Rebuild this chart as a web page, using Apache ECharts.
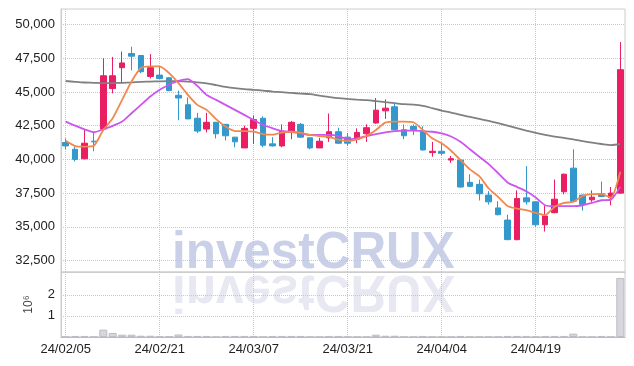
<!DOCTYPE html>
<html lang="en" style="height: 100%">
<head>
<meta charset="utf-8">
<title>Candlestick with MA and volume</title>
</head>
<body style="height: 100%; margin: 0">
<div id="container" style="height: 100%"></div>

<script type="text/javascript" src="https://cdn.jsdelivr.net/npm/echarts@6/dist/echarts.min.js"></script>

<script type="text/javascript">

var dom = document.getElementById('container');
var myChart = echarts.init(dom, null, {width: 634, height: 366});

const dates = [
    '24/02/05', '24/02/06', '24/02/07', '24/02/08', '24/02/13', '24/02/14', '24/02/15', '24/02/16', '24/02/19', '24/02/20',
    '24/02/21', '24/02/22', '24/02/23', '24/02/26', '24/02/27', '24/02/28', '24/02/29', '24/03/04', '24/03/05', '24/03/06',
    '24/03/07', '24/03/08', '24/03/11', '24/03/12', '24/03/13', '24/03/14', '24/03/15', '24/03/18', '24/03/19', '24/03/20',
    '24/03/21', '24/03/22', '24/03/25', '24/03/26', '24/03/27', '24/03/28', '24/03/29', '24/04/01', '24/04/02', '24/04/03',
    '24/04/04', '24/04/05', '24/04/08', '24/04/09', '24/04/11', '24/04/12', '24/04/15', '24/04/16', '24/04/17', '24/04/18',
    '24/04/19', '24/04/22', '24/04/23', '24/04/24', '24/04/25', '24/04/26', '24/04/29', '24/04/30', '24/05/02', '24/05/03'
];

const opens = [
    41250, 40750, 40050, 41350, 42250, 45250, 46800, 47850, 47700, 46150,
    46250, 46050, 44750, 44050, 43050, 42250, 42750, 42600, 41650, 40850,
    42300, 43050, 41150, 41000, 42050, 42600, 41600, 40850, 41600, 42050,
    41650, 41500, 41900, 42700, 43600, 43900, 42200, 42450, 42050, 40500,
    40600, 39950, 39950, 38300, 38150, 37350, 36400, 35500, 34050, 37150,
    36850, 35150, 36050, 37600, 39350, 37350, 37000, 37450, 37150, 37500
];
const closes = [
    41000, 40000, 41200, 41300, 46200, 46200, 47150, 47650, 46500, 46800,
    46000, 45100, 44550, 43000, 42100, 42750, 41900, 41750, 41300, 42300,
    42950, 41050, 41000, 42100, 42750, 41650, 40850, 41350, 42050, 41200,
    41200, 42000, 42350, 43650, 43800, 42200, 41750, 42200, 40700, 40600,
    40450, 40050, 37950, 38000, 37450, 36850, 35900, 34050, 37100, 36850,
    35150, 35800, 37050, 38900, 36900, 36650, 37200, 37250, 37500, 46650
];
const lows = [
    40750, 39850, 40000, 40600, 42200, 44900, 45650, 46600, 46400, 46000,
    45950, 45050, 42900, 43000, 41950, 42000, 41550, 41400, 40900, 40850,
    41150, 40900, 40950, 40900, 41500, 41600, 40750, 40850, 41300, 41150,
    41000, 41200, 41300, 42650, 43000, 42150, 41500, 41800, 40650, 40200,
    40300, 39750, 37900, 37950, 36950, 36650, 35850, 34000, 34000, 36650,
    35000, 34650, 36000, 37400, 36850, 36200, 36850, 37200, 36600, 37450
];
const highs = [
    41550, 40950, 42250, 42050, 47500, 47600, 48000, 48350, 47700, 47800,
    46900, 46100, 45100, 44600, 43450, 43450, 42780, 42620, 41650, 42500,
    43250, 43200, 41650, 42600, 42850, 42700, 41600, 41600, 43400, 42350,
    41950, 42300, 42600, 44550, 44450, 44150, 42600, 42600, 42450, 41300,
    41150, 40250, 39950, 38900, 38500, 37650, 36900, 35900, 37700, 39500,
    36900, 36550, 38500, 38950, 40750, 37400, 37700, 38350, 37950, 48700
];
const volumes = [
    10000, 50000, 50000, 10000, 350000, 190000, 110000, 110000, 60000, 60000,
    30000, 30000, 120000, 50000, 50000, 50000, 10000, 50000, 50000, 50000,
    50000, 10000, 50000, 50000, 50000, 50000, 10000, 10000, 50000, 50000,
    10000, 10000, 10000, 110000, 60000, 60000, 10000, 10000, 50000, 10000,
    10000, 10000, 50000, 10000, 10000, 10000, 10000, 50000, 50000, 50000,
    10000, 50000, 50000, 50000, 160000, 10000, 10000, 50000, 10000, 2800000
];
const ma5 = [
    41380, 40990, 40940, 41010, 42180, 43050, 44410, 45770, 46770, 46890,
    46890, 46400, 45660, 44780, 44040, 43670, 42980, 42430, 42100, 42100,
    42050, 41880, 41830, 41980, 42050, 41980, 41810, 41730, 41680, 41460,
    41360, 41490, 41730, 42180, 42720, 42800, 42800, 42750, 42180, 41560,
    41190, 40640, 39950, 39260, 38750, 37840, 37220, 36550, 36350, 36230,
    36030, 35860, 36470, 36770, 36850, 37290, 37420, 37420, 37170, 39080
];
const ma10 = [
    42800, 42500, 42230, 42010, 42230, 42480, 42800, 43420, 44040, 44660,
    45160, 45530, 45830, 45950, 45450, 44780, 44410, 44040, 43670, 43300,
    42920, 42550, 42310, 42100, 42050, 41930, 41810, 41810, 41810, 41730,
    41490, 41560, 41730, 41880, 42010, 42100, 42130, 42130, 42100, 42050,
    41930, 41700, 41300, 40750, 40200, 39650, 38980, 38290, 37960, 37640,
    37170, 36600, 36530, 36530, 36530, 36600, 36770, 36970, 37020, 37960
];
const maLong = [
    45810, 45750, 45700, 45680, 45650, 45660, 45680, 45710, 45750, 45770,
    45790, 45800, 45800, 45770, 45710, 45630, 45510, 45380, 45280, 45210,
    45160, 45100, 45030, 44990, 44930, 44880, 44840, 44730, 44630, 44540,
    44480, 44430, 44390, 44320, 44240, 44170, 44090, 44060, 43970, 43800,
    43620, 43470, 43300, 43150, 43000, 42850, 42680, 42500, 42310, 42130,
    41960, 41810, 41680, 41590, 41490, 41360, 41240, 41140, 41060, 41140
];
const priceTicks = [32500, 35000, 37500, 40000, 42500, 45000, 47500, 50000];
const volumeTicks = [1000000, 2000000];

var labelFont = 'Liberation Sans';
var dotted = {show: true, lineStyle: {color: '#c4c4da', type: 'dotted', width: 1}};

var option = {
    animation: false,
    graphic: [
        {
            type: 'text', z: -1, x: 172, y: 280, scaleX: 0.95,
            style: {text: 'investCRUX', font: 'bold 52px "Liberation Sans"', fill: '#cad0e7', verticalAlign: 'bottom'}
        },
        {
            type: 'text', z: -1, x: 172, y: 264, scaleX: 0.95, scaleY: -1,
            style: {text: 'investCRUX', font: 'bold 52px "Liberation Sans"', fill: '#e7e8f1', verticalAlign: 'bottom'}
        }
    ],
    grid: [
        {left: 61, right: 9, top: 9, height: 263, show: true, borderColor: '#cccccc', borderWidth: 1},
        {left: 61, right: 9, top: 272, height: 65, show: true, borderColor: '#cccccc', borderWidth: 1}
    ],
    xAxis: [
        {
            type: 'category', data: dates, gridIndex: 0, boundaryGap: true,
            axisLine: {lineStyle: {color: '#cccccc'}},
            axisTick: {show: false},
            axisLabel: {show: false},
            splitLine: Object.assign({interval: 9, alignWithLabel: true}, dotted)
        },
        {
            type: 'category', data: dates, gridIndex: 1, boundaryGap: true,
            axisLine: {lineStyle: {color: '#bbbbbb'}},
            axisTick: {show: false},
            axisLabel: {interval: 9, color: '#222', fontFamily: labelFont, fontSize: 13, margin: 6},
            splitLine: Object.assign({interval: 9, alignWithLabel: true}, dotted)
        }
    ],
    yAxis: [
        {
            type: 'value', gridIndex: 0, min: 31650, max: 51150,
            axisLine: {show: true, lineStyle: {color: '#cccccc'}},
            axisTick: {show: false, customValues: priceTicks},
            axisLabel: {
                customValues: priceTicks, color: '#222', fontFamily: labelFont, fontSize: 13, margin: 6,
                formatter: function (v) { return v.toLocaleString('en-US'); }
            },
            splitLine: dotted
        },
        {
            type: 'value', gridIndex: 1, min: 0, max: 3080000,
            name: '10\u2076', nameLocation: 'middle', nameRotate: 90, nameGap: 26,
            nameTextStyle: {color: '#444', fontFamily: labelFont, fontSize: 12},
            axisLine: {show: true, lineStyle: {color: '#cccccc'}},
            axisTick: {show: false, customValues: volumeTicks},
            axisLabel: {
                customValues: volumeTicks, color: '#222', fontFamily: labelFont, fontSize: 13, margin: 6,
                formatter: function (v) { return String(v / 1000000); }
            },
            splitLine: dotted
        }
    ],
    series: [
        {
            name: 'Price', type: 'candlestick', xAxisIndex: 0, yAxisIndex: 0,
            barWidth: 6,
            data: dates.map(function (d, i) { return [opens[i], closes[i], lows[i], highs[i]]; }),
            itemStyle: {color: '#e91e63', color0: '#3399cc', borderColor: '#e91e63', borderColor0: '#3399cc', borderWidth: 1}
        },
        {
            name: 'MA long', type: 'line', xAxisIndex: 0, yAxisIndex: 0, data: maLong,
            symbol: 'none', smooth: 0.3, lineStyle: {color: '#808080', width: 1.8}
        },
        {
            name: 'MA10', type: 'line', xAxisIndex: 0, yAxisIndex: 0, data: ma10,
            symbol: 'none', smooth: 0.2, lineStyle: {color: '#cc55ee', width: 1.8}
        },
        {
            name: 'MA5', type: 'line', xAxisIndex: 0, yAxisIndex: 0, data: ma5,
            symbol: 'none', smooth: 0.2, lineStyle: {color: '#f0884f', width: 1.8}
        },
        {
            name: 'Volume', type: 'bar', xAxisIndex: 1, yAxisIndex: 1, data: volumes,
            barWidth: '85%',
            itemStyle: {color: '#d6d6dc', borderColor: '#bdbdc6', borderWidth: 1}
        }
    ]
};

myChart.setOption(option);

window.addEventListener('resize', myChart.resize);
</script>
</body>
</html>
